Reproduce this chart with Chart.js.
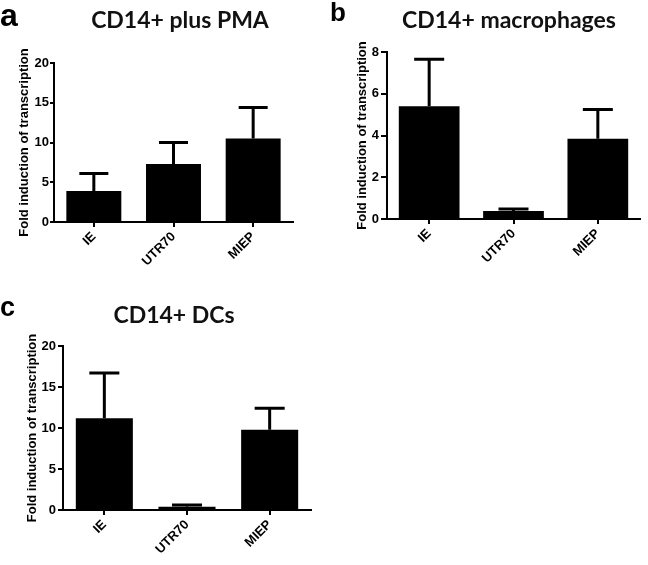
<!DOCTYPE html>
<html><head><meta charset="utf-8">
<script src="https://cdn.jsdelivr.net/npm/chart.js@4"></script>
<style>
html,body{margin:0;padding:0;background:#fff;width:648px;height:565px;overflow:hidden;}
.lbl{position:absolute;font-family:"Liberation Sans",Arial,sans-serif;font-weight:bold;line-height:1;color:#000;}
.ttl{position:absolute;font-family:Lato,"Open Sans",sans-serif;font-weight:bold;line-height:1;color:#111;white-space:nowrap;transform:translateX(-50%);}
canvas{position:absolute;}
</style></head><body>
<canvas id="ca" width="330" height="290" style="left:0;top:0;width:330px;height:290px"></canvas>
<canvas id="cb" width="318" height="290" style="left:330px;top:0;width:318px;height:290px"></canvas>
<canvas id="cc" width="330" height="275" style="left:0;top:290px;width:330px;height:275px"></canvas>
<div class="lbl" style="left:0;top:-1px;font-size:32px">a</div>
<div class="lbl" style="left:330px;top:-1px;font-size:26px">b</div>
<div class="lbl" style="left:0;top:294px;font-size:27px">c</div>
<div class="ttl" style="left:180px;top:8px;font-size:23px">CD14+ plus PMA</div>
<div class="ttl" style="left:509px;top:8px;font-size:23px">CD14+ macrophages</div>
<div class="ttl" style="left:174px;top:303px;font-size:23px">CD14+ DCs</div>
<script>
const categories = ["IE", "UTR70", "MIEP"];
const meanA = [3.9, 7.3, 10.5];
const semA  = [2.2, 2.7, 3.9];
const meanB = [5.4, 0.38, 3.85];
const semB  = [2.25, 0.1, 1.4];
const meanC = [11.2, 0.4, 9.8];
const semC  = [5.5, 0.2, 2.6];
const yTicksA = [0, 5, 10, 15, 20];
const yTicksB = [0, 2, 4, 6, 8];
const yTicksC = [0, 5, 10, 15, 20];
const yTitle = "Fold induction of transcription";

const errorBars = {
  id: 'errorBars',
  afterDatasetsDraw(chart, args, opts) {
    const ctx = chart.ctx;
    const meta = chart.getDatasetMeta(0);
    const ys = chart.scales.y;
    const ds = chart.data.datasets[0];
    const cap = opts.cap || 29;
    ctx.save();
    ctx.strokeStyle = '#000';
    ctx.lineWidth = opts.lineWidth || 3;
    meta.data.forEach((bar, i) => {
      const v = ds.data[i], e = ds.errors[i];
      const yTop = ys.getPixelForValue(v + e);
      const yBar = ys.getPixelForValue(v);
      ctx.beginPath();
      ctx.moveTo(bar.x, yBar);
      ctx.lineTo(bar.x, yTop);
      ctx.moveTo(bar.x - cap / 2, yTop);
      ctx.lineTo(bar.x + cap / 2, yTop);
      ctx.stroke();
    });
    ctx.restore();
  }
};

const FONT = '"Liberation Sans", Arial, sans-serif';

function makeChart(id, means, sems, ticks, g) {
  return new Chart(document.getElementById(id), {
    type: 'bar',
    data: {
      labels: categories,
      datasets: [{
        data: means, errors: sems,
        backgroundColor: '#000', borderColor: '#000', borderWidth: 0,
        barPercentage: g.barPct, categoryPercentage: 1
      }]
    },
    options: {
      responsive: false, animation: false, devicePixelRatio: 1,
      layout: { padding: { top: g.top, right: g.right, left: 0, bottom: 0 } },
      plugins: { legend: { display: false }, tooltip: { enabled: false }, errorBars: { cap: g.cap, lineWidth: 3 } },
      scales: {
        x: {
          grid: { display: true, drawOnChartArea: false, drawTicks: true, tickLength: 5, offset: false, color: '#000', lineWidth: 2 },
          border: { color: '#000', width: 2 },
          ticks: { color: '#000', font: { family: FONT, size: 13, weight: 'bold' }, minRotation: 45, maxRotation: 45, padding: 2, autoSkip: false },
          afterFit(s) { s.height = g.xh; }
        },
        y: {
          min: ticks[0], max: ticks[ticks.length - 1],
          afterBuildTicks(s) { s.ticks = ticks.map(v => ({ value: v })); },
          grid: { display: true, drawOnChartArea: false, drawTicks: true, tickLength: g.tl, color: '#000', lineWidth: 2 },
          border: { color: '#000', width: 2 },
          ticks: { color: '#000', font: { family: FONT, size: 13, weight: 'bold' }, padding: g.tp },
          title: { display: true, text: yTitle, color: '#000', font: { family: FONT, size: 13, weight: 'bold' }, padding: { top: g.tpad, bottom: 0 } },
          afterFit(s) { s.width = g.yw; }
        }
      }
    },
    plugins: [errorBars]
  });
}

makeChart('ca', meanA, semA, yTicksA, { top: 63, right: 37, xh: 68, yw: 54, tpad: 17, tl: 4, tp: 1, barPct: 0.69, cap: 29 });
makeChart('cb', meanB, semB, yTicksB, { top: 52, right: 8, xh: 71, yw: 57, tpad: 25, tl: 6, tp: 2, barPct: 0.72, cap: 30 });
makeChart('cc', meanC, semC, yTicksC, { top: 56, right: 19, xh: 55, yw: 63, tpad: 25, tl: 5, tp: 2, barPct: 0.69, cap: 30 });
</script>
</body></html>
